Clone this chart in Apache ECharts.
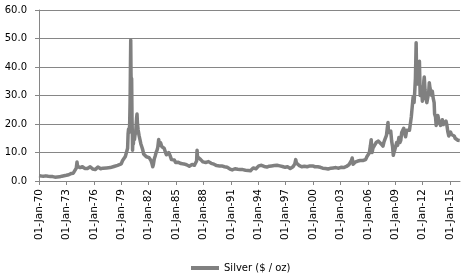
<!DOCTYPE html>
<html><head><meta charset="utf-8">
<script src="https://cdn.jsdelivr.net/npm/echarts@6/dist/echarts.min.js"></script>
<style>html,body{margin:0;padding:0;background:#fff}#c{width:464px;height:276px}</style>
</head><body><div id="c"></div>
<script>
// decimal years
var dates = [
1970.0,1970.25,1970.5,1970.75,1971.0,1971.25,1971.5,1971.75,1972.0,1972.25,1972.5,1972.75,
1973.0,1973.25,1973.5,1973.75,1973.95,
1974.08,1974.16,1974.22,1974.3,1974.4,1974.5,1974.6,1974.75,1974.9,
1975.0,1975.15,1975.3,1975.45,1975.6,1975.75,1975.9,
1976.0,1976.15,1976.3,1976.45,1976.6,1976.75,1976.9,
1977.0,1977.2,1977.4,1977.6,1977.8,
1978.0,1978.2,1978.4,1978.6,1978.8,
1979.0,1979.15,1979.3,1979.45,1979.6,1979.7,1979.75,1979.8,1979.85,1979.92,1979.97,
1980.0,1980.04,1980.07,1980.1,1980.14,1980.18,1980.22,1980.24,1980.28,1980.33,1980.4,1980.45,1980.5,1980.58,1980.68,1980.73,1980.78,1980.85,1980.95,
1981.05,1981.15,1981.25,1981.35,1981.45,1981.55,1981.65,1981.75,1981.85,1981.95,
1982.05,1982.15,1982.25,1982.35,1982.45,1982.52,1982.62,1982.72,1982.82,1982.92,
1983.0,1983.1,1983.18,1983.3,1983.45,1983.55,1983.7,1983.85,1983.95,
1984.1,1984.2,1984.35,1984.5,1984.65,1984.8,1984.95,
1985.1,1985.2,1985.4,1985.55,1985.7,1985.85,
1986.0,1986.15,1986.3,1986.45,1986.6,1986.75,1986.9,
1987.0,1987.15,1987.25,1987.3,1987.35,1987.45,1987.55,1987.7,1987.85,1987.95,
1988.1,1988.25,1988.4,1988.55,1988.7,1988.85,
1989.0,1989.15,1989.3,1989.45,1989.6,1989.75,1989.9,
1990.0,1990.15,1990.3,1990.45,1990.6,1990.75,1990.9,
1991.0,1991.15,1991.3,1991.45,1991.6,1991.75,1991.9,
1992.0,1992.15,1992.3,1992.45,1992.6,1992.75,1992.9,
1993.0,1993.15,1993.3,1993.45,1993.6,1993.75,1993.9,
1994.05,1994.2,1994.35,1994.5,1994.65,1994.8,1994.95,
1995.05,1995.2,1995.3,1995.45,1995.6,1995.75,1995.9,
1996.05,1996.2,1996.35,1996.5,1996.65,1996.8,1996.95,
1997.05,1997.2,1997.35,1997.5,1997.65,1997.8,1997.9,
1998.0,1998.1,1998.18,1998.3,1998.45,1998.6,1998.75,1998.9,
1999.05,1999.2,1999.35,1999.5,1999.65,1999.8,1999.95,
2000.05,2000.2,2000.35,2000.5,2000.65,2000.8,2000.95,
2001.05,2001.2,2001.35,2001.5,2001.65,2001.8,2001.95,
2002.05,2002.2,2002.35,2002.5,2002.65,2002.8,2002.95,
2003.05,2003.2,2003.35,2003.5,2003.65,2003.8,2003.95,
2004.05,2004.2,2004.28,2004.38,2004.5,2004.6,2004.75,2004.9,
2005.05,2005.15,2005.3,2005.45,2005.6,2005.75,2005.9,
2006.0,2006.15,2006.28,2006.36,2006.42,2006.46,2006.55,2006.65,2006.75,2006.9,
2007.05,2007.15,2007.3,2007.45,2007.55,2007.65,2007.75,2007.85,2007.95,
2008.03,2008.12,2008.2,2008.25,2008.35,2008.5,2008.6,2008.7,2008.78,2008.85,2008.95,
2009.05,2009.15,2009.25,2009.4,2009.5,2009.6,2009.7,2009.8,2009.92,2009.98,
2010.05,2010.12,2010.25,2010.35,2010.45,2010.55,2010.65,2010.75,2010.85,2010.95,
2011.05,2011.12,2011.2,2011.28,2011.34,2011.4,2011.48,2011.56,2011.64,2011.72,2011.8,2011.88,2011.96,
2012.05,2012.12,2012.17,2012.25,2012.35,2012.45,2012.55,2012.65,2012.72,2012.8,2012.9,2012.98,
2013.05,2013.15,2013.25,2013.3,2013.4,2013.47,2013.55,2013.65,2013.75,2013.85,2013.95,
2014.05,2014.15,2014.25,2014.35,2014.45,2014.55,2014.65,2014.75,2014.85,2014.95,
2015.05,2015.15,2015.25,2015.35,2015.45,2015.55,2015.65,2015.75,2015.85,2015.95,
2016.05
];
var silver = [
1.85,1.75,1.70,1.80,1.65,1.60,1.55,1.35,1.40,1.45,1.70,1.85,
2.00,2.20,2.60,2.75,3.0,
4.5,6.7,5.2,5.6,4.6,4.7,4.4,5.0,4.6,
4.4,4.6,4.4,4.6,5.0,4.5,4.2,
4.1,4.0,4.6,4.9,4.3,4.3,4.4,
4.5,4.7,4.6,4.5,4.7,
4.9,5.1,5.3,5.5,5.9,
6.0,7.2,7.8,8.6,9.0,11.5,16.5,18.2,17.0,19.5,28,
37,49.5,38,33,36,22,16,10.8,15,13,17,14.5,16,17,22,23.5,20,18,16,
14.5,13,12,11,9.5,9.0,10,8.5,8.8,8.3,
8.2,7.8,7.2,6.3,5.0,5.8,7.8,8.8,10,10.8,
11.8,14.6,12.5,13.5,12,12.5,11.5,10,9.2,
9.0,10.0,8.9,7.5,7.3,7.4,6.5,
6.2,6.6,6.2,6.1,6.2,6.0,
6.0,5.7,5.2,5.2,5.3,5.8,5.4,
5.5,5.7,7.0,10.8,8.5,7.8,7.9,7.5,6.9,6.7,
6.5,6.5,7.0,6.8,6.3,6.2,
6.1,5.9,5.5,5.4,5.3,5.3,5.6,
5.3,5.1,5.0,4.9,4.8,4.6,4.2,
4.0,3.9,4.1,4.3,4.0,4.1,3.9,
4.0,4.1,4.0,4.0,3.8,3.8,3.7,
3.7,3.6,4.2,4.6,4.9,4.3,5.0,
5.3,5.4,5.5,5.3,5.1,5.3,4.9,
4.7,5.2,5.7,5.3,5.3,5.4,5.3,
5.5,5.6,5.3,5.1,5.1,4.8,4.8,
4.9,5.0,4.7,4.4,4.7,5.0,5.7,
6.0,7.5,6.3,6.0,5.5,5.3,5.0,5.0,
5.2,5.1,5.0,5.2,5.3,5.2,5.3,
5.2,5.0,5.0,5.0,4.9,4.8,4.6,
4.5,4.4,4.4,4.3,4.2,4.3,4.5,
4.4,4.6,4.9,4.7,4.6,4.5,4.7,
4.8,4.5,4.7,4.7,5.1,5.1,5.8,
6.4,7.2,8.1,5.9,6.0,6.6,7.2,7.0,
6.7,7.2,7.1,7.2,7.0,7.5,8.6,
9.0,9.8,12.5,14.5,11,10.0,11.5,12.0,11.2,13.5,
13.0,14.0,13.6,13.0,12.7,12.2,13.6,14.5,14.2,
16.0,18.5,20.5,17.0,16.8,17.5,14.0,12.0,9.0,10.0,11.0,
11.5,13.5,12.5,15.3,13.5,14.3,17.0,16.8,18.5,17.0,
16.5,15.5,17.8,18.5,18.3,17.8,18.5,22.5,26.0,29.5,
27.5,31,36,48.5,35,36,34,40,42,30,32,33,28,
31,35,36.5,32,29,27.5,27.5,31,34.5,32.5,31.5,30,
31.5,29,27.5,23.5,22.5,19.5,19.8,23,21.5,21,19.5,
19.8,21.5,19.8,19.2,19.8,21.0,19.5,17.2,15.8,16.0,
17.2,16.3,16.2,16.5,15.8,15.0,14.8,15.5,14.3,13.9,
14.2
];
var baseYear = 1970;
var yTicks = [0,10,20,30,40,50,60];
var xTickYears = [1970,1973,1976,1979,1982,1985,1988,1991,1994,1997,2000,2003,2006,2009,2012,2015];
var seriesName = 'Silver ($ / oz)';

var data = dates.map(function(d,i){return [d-baseYear, silver[i]];});
var xTicks = xTickYears.map(function(y){return y-baseYear;});
var gray = '#868686';
var chart = echarts.init(document.getElementById('c'));
chart.setOption({
  animation:false,
  textStyle:{fontFamily:'DejaVu Sans'},
  grid:{left:39,right:4,top:10,bottom:95,containLabel:false},
  legend:{
    data:[seriesName], left:186, top:258, icon:'rect', itemWidth:28, itemHeight:4,
    textStyle:{fontFamily:'DejaVu Sans',fontSize:10,color:'#000'}
  },
  xAxis:{
    type:'value', min:0, max:46.08,
    splitLine:{show:false},
    axisLine:{lineStyle:{color:gray,width:1}},
    axisTick:{show:true,length:4,customValues:xTicks,lineStyle:{color:gray}},
    axisLabel:{
      customValues:xTicks, rotate:90, margin:8, fontSize:10.5, color:'#000', fontFamily:'DejaVu Sans',
      formatter:function(v){var y=Math.round(v+baseYear)%100;return '01-Jan-'+(y<10?'0':'')+y;}
    }
  },
  yAxis:{
    type:'value', min:yTicks[0], max:yTicks[yTicks.length-1], interval:10,
    axisLine:{show:true,lineStyle:{color:gray,width:1}},
    axisTick:{show:true,length:4,lineStyle:{color:gray}},
    splitLine:{show:true,lineStyle:{color:gray,width:1}},
    axisLabel:{margin:12,fontSize:10,color:'#000',fontFamily:'DejaVu Sans',formatter:function(v){return v.toFixed(1);}}
  },
  series:[{
    name:seriesName, type:'line', data:data, showSymbol:false, symbol:'none',
    lineStyle:{color:'#808080',width:3.5,join:'round'}, itemStyle:{color:'#808080'}
  }]
});
</script></body></html>
